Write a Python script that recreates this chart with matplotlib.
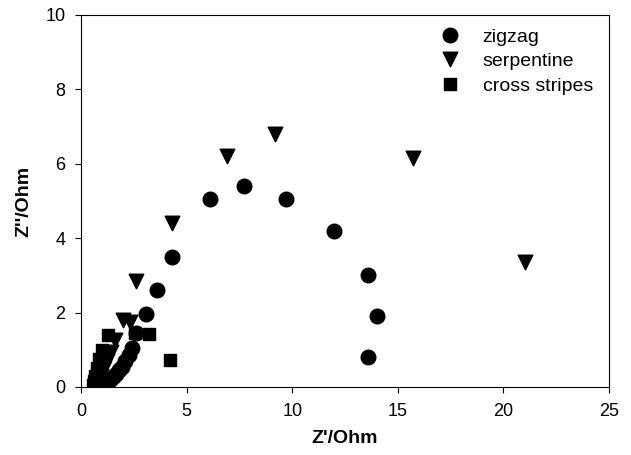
import matplotlib
matplotlib.use("Agg")
import matplotlib.pyplot as plt

plt.rcParams["font.family"] = ["Liberation Sans", "DejaVu Sans"]

# Nyquist data
zig_re = [13.6, 14.0, 13.6, 12.0, 9.7, 7.7, 6.1, 4.3, 3.6, 3.1, 2.6, 2.4,
          2.25, 2.1, 1.95, 1.8, 1.65, 1.5, 1.35, 1.2, 1.05, 0.9, 0.8]
zig_im = [0.8, 1.9, 3.0, 4.2, 5.05, 5.4, 5.05, 3.5, 2.6, 1.95, 1.45, 1.05,
          0.85, 0.7, 0.55, 0.45, 0.35, 0.27, 0.2, 0.13, 0.08, 0.04, 0.01]

serp_re = [21.0, 15.7, 9.2, 6.9, 4.3, 2.6, 2.3, 2.0, 1.6, 1.4, 1.25, 1.1,
           0.95, 0.85, 0.75]
serp_im = [3.35, 6.15, 6.8, 6.2, 4.4, 2.85, 1.75, 1.8, 1.25, 0.95, 0.7, 0.5,
           0.3, 0.15, 0.05]

cross_re = [4.2, 3.2, 2.55, 1.3, 1.0, 0.85, 0.75, 0.65, 0.6, 0.55]
cross_im = [0.72, 1.42, 1.45, 1.4, 1.0, 0.75, 0.5, 0.3, 0.15, 0.05]

fig = plt.figure(figsize=(6.31, 4.55), dpi=100)
ax = fig.add_axes([0.1284, 0.1495, 0.8368, 0.8176])

ax.scatter(zig_re, zig_im, marker="o", s=110, color="black", label="zigzag")
ax.scatter(serp_re, serp_im, marker="v", s=110, color="black", label="serpentine")
ax.scatter(cross_re, cross_im, marker="s", s=85, color="black", label="cross stripes")

ax.set_xlim(0, 25)
ax.set_ylim(0, 10)
ax.set_xticks([0, 5, 10, 15, 20, 25])
ax.set_yticks([0, 2, 4, 6, 8, 10])
ax.tick_params(labelsize=13, length=4.3, direction="out", pad=7)
ax.set_xlabel("Z'/Ohm", fontsize=14, fontweight="bold")
ax.set_ylabel("Z''/Ohm", fontsize=14, fontweight="bold")
ax.xaxis.set_label_coords(0.5, -0.115)
ax.yaxis.set_label_coords(-0.093, 0.5)

fig.legend(loc="upper left", bbox_to_anchor=(0.697, 0.938), frameon=False,
           fontsize=14, handlelength=1.0, handletextpad=1.2, labelspacing=0.35,
           borderpad=0, borderaxespad=0, scatteryoffsets=[0.5])

fig.savefig("out.png", dpi=100)
